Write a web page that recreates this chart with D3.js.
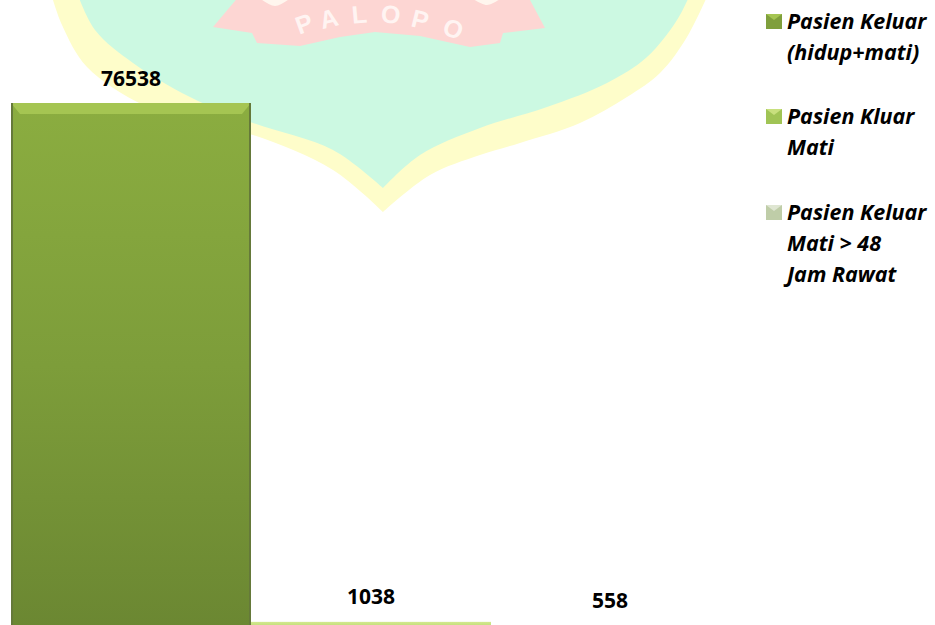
<!DOCTYPE html>
<html><head><meta charset="utf-8">
<script src="https://cdnjs.cloudflare.com/ajax/libs/d3/7.8.5/d3.min.js"></script>
<style>html,body{margin:0;padding:0;background:#fff;overflow:hidden}svg{display:block}
text{font-family:"Open Sans","Noto Sans",sans-serif;font-weight:700;fill:#000}</style></head>
<body><svg id="c" width="935" height="625"></svg>
<script>
const categories = ["Pasien Keluar (hidup+mati)", "Pasien Kluar Mati", "Pasien Keluar Mati > 48 Jam Rawat"];
const values = [76538, 1038, 558];
const valueLabels = ["76538", "1038", "558"];
const legendLines = [["Pasien Keluar", "(hidup+mati)"], ["Pasien Kluar", "Mati"], ["Pasien Keluar", "Mati > 48", "Jam Rawat"]];
const svg = d3.select("#c");
const defs = svg.append("defs");
const gradStops = [["#8bad40","#7d9d3a","#6b8732"],["#d3e88f","#c4df7c","#b4d26c"],["#fdfde8","#fcfde6","#fbfcdf"]];
gradStops.forEach((s,i)=>{
  const g = defs.append("linearGradient").attr("id","bar"+i).attr("x1",0).attr("x2",0).attr("y1",0).attr("y2",1);
  g.selectAll("stop").data(s).join("stop").attr("offset",(d,j)=>j/2).attr("stop-color",d=>d);
});
const y = d3.scaleLinear().domain([0,76538]).range([629,103]);
const x = d3.scaleBand().domain(categories).range([11,731]);

// watermark shield: two smooth flanks meeting in a sharp tip
const wm = svg.append("g");
const line = d3.line().curve(d3.curveCatmullRom.alpha(.5));
const shield=(l,r)=>line(l)+"L"+line(r).slice(1)+"Z";
const outerL=[[50,-10],[62,25],[87,67],[143,105],[193,122],[253,135],[333,170],[383,212]];
const outerR=[[383,212],[430,175],[480,155],[520,143],[580,123],[627,97],[660,73],[687,37],[710,-10]];
const innerL=[[76,-10],[95,30],[133,63],[190,97],[253,123],[333,150],[383,188]];
const innerR=[[383,188],[420,155],[480,128],[547,107],[607,83],[647,57],[677,20],[692,-10]];
wm.append("path").attr("d",shield(outerL,outerR)).attr("fill","#fefdca");
wm.append("path").attr("d",shield(innerL,innerR)).attr("fill","#ccf9e2");
const ribbon=[[240,-5],[213,27],[252,33],[257,43],[300,46],[340,37],[375,32],[420,36],[470,47],[500,43],[503,33],[545,28],[530,0],[530,-5]];
wm.append("path").attr("d",d3.line()(ribbon)+"Z").attr("fill","#fdd6d3");
wm.append("path").attr("d",line([[258,-3],[275,6],[292,-3]])+"Z").attr("fill","#fff6ee");
wm.append("path").attr("d",line([[470,-3],[487,5],[503,-3]])+"Z").attr("fill","#fff6ee");
const pal = ["P","A","L","O","P","O"], palX=[307,331,360,390,418,450], palY=[32,27,23,23,28,37], palR=[-20,-14,-5,6,14,22];
wm.selectAll("text").data(pal).join("text").text(d=>d)
  .attr("transform",(d,i)=>`translate(${palX[i]},${palY[i]}) rotate(${palR[i]})`)
  .attr("text-anchor","middle").style("font-size","25px").style("font-family","Liberation Sans").style("fill","#fff4f2");

// bars
const bars = svg.append("g");
values.forEach((v,i)=>{
  const bx=x(categories[i]), bw=x.bandwidth(), by=y(v), bh=y(0)-by;
  bars.append("rect").attr("x",bx).attr("y",by).attr("width",bw).attr("height",bh).attr("fill",`url(#bar${i})`);
  if(i===0){
    bars.append("path").attr("d",`M${bx},${by}H${bx+bw}L${bx+bw-9},${by+11}H${bx+9}Z`).attr("fill","#a5c552");
    bars.append("rect").attr("x",bx).attr("y",by).attr("width",2).attr("height",bh).attr("fill","#65793a");
    bars.append("rect").attr("x",bx+bw-2).attr("y",by).attr("width",2).attr("height",bh).attr("fill","#65793a");
  }
});
const labelY=[86,604,608];
const labelX=[131,371,610];
svg.append("g").selectAll("text").data(valueLabels).join("text").text(d=>d)
  .attr("x",(d,i)=>labelX[i]).attr("y",(d,i)=>labelY[i]).attr("text-anchor","middle").style("font-size","21px");

// legend
const legendY=[29,124,220], swatch=["#7f9f3c","#a0c455","#bfcda8"], swatchTop=["#a5c552","#c8e07e","#dfe6d2"];
const lg=svg.append("g");
legendLines.forEach((ls,i)=>{
  const sx=766, sy=legendY[i]-15;
  lg.append("rect").attr("x",sx).attr("y",sy).attr("width",16).attr("height",15).attr("fill",swatch[i]);
  lg.append("path").attr("d",`M${sx},${sy}H${sx+16}L${sx+8},${sy+6}Z`).attr("fill",swatchTop[i]);
  lg.selectAll(null).data(ls).join("text").text(d=>d).attr("x",787)
    .attr("y",(d,j)=>legendY[i]+j*31).style("font-size","21.5px").style("font-style","italic");
});
</script></body></html>
